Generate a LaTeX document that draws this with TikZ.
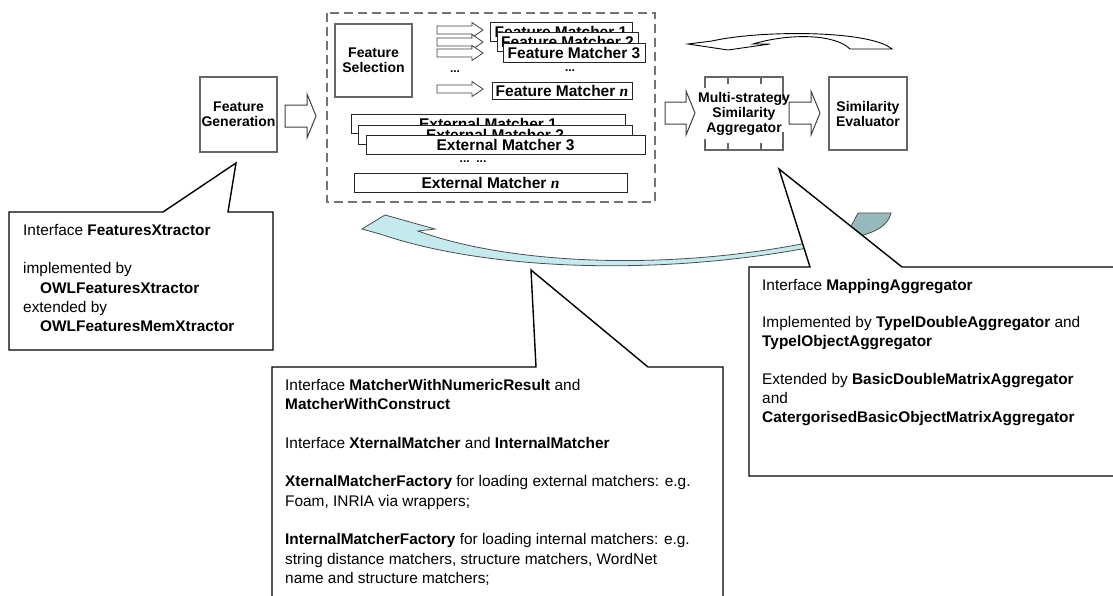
\documentclass[tikz,border=0pt]{standalone}
\usepackage{fontspec}
\setmainfont{Liberation Sans}
\newfontfamily\timesit{Liberation Serif}
\usetikzlibrary{calc}

\newcommand{\nvar}{{\timesit\bfseries\itshape n}}

\begin{document}
\begin{tikzpicture}[x=1pt, y=-1pt,
  box/.style={draw=black!60, line width=1.2pt, fill=white, align=center,
    inner sep=0pt, font=\fontsize{14}{15}\selectfont\bfseries},
  matcher/.style={draw=black!85, line width=0.9pt, fill=white, inner sep=0pt,
    minimum height=19pt, font=\fontsize{15.5}{16}\selectfont\bfseries},
  dots/.style={font=\fontsize{12}{12}\selectfont\bfseries, inner sep=0pt},
  blockarrow/.style={draw=black!75, line width=1pt, fill=white, line join=miter},
  smallarrow/.style={draw=black!75, line width=0.8pt, fill=white},
  callout/.style={draw=black, line width=1.4pt, fill=white, line join=miter},
  note/.style={anchor=north west, align=left, inner sep=0pt,
    font=\fontsize{15.4}{19.3}\selectfont}
]
\useasboundingbox (0,0) rectangle (1113,595);
\clip (0,0) rectangle (1113,595);

  % Feature generation
  \node[box, minimum width=77pt, minimum height=75pt] (gen) at (238.5,114.5) {Feature\\Generation};

  % Matcher frame
  \draw[draw=black!55, line width=1.4pt, dash pattern=on 9pt off 5pt] (327,13) rectangle (655,202);
  \coordinate (frame) at (491,107);

  \node[box, minimum width=77pt, minimum height=73pt] (sel) at (373.5,60.5) {Feature\\Selection};

  % Feature matchers
  \node[matcher, minimum width=142pt] (fm1) at (561,31.5) {Feature Matcher 1};
  \node[matcher, minimum width=141pt] (fm2) at (567.5,42) {Feature Matcher 2};
  \node[matcher, minimum width=142pt] (fm3) at (574,52.5) {Feature Matcher 3};
  \node[matcher, minimum width=140pt, minimum height=17pt] (fmn) at (562,90.5) {Feature Matcher \nvar};
  \node[dots] (dl) at (455,72) {...};
  \node[dots] (dr) at (570,71) {...};

  \foreach \ya in {30,42,53,89}
    \draw[smallarrow] (437,\ya-4) -- (472,\ya-4) -- (472,\ya-7.5) -- (483,\ya)
      -- (472,\ya+7.5) -- (472,\ya+4) -- (437,\ya+4) -- cycle;

  % External matchers
  \node[matcher, minimum width=274pt] (em1) at (488,123.5) {External Matcher 1};
  \node[matcher, minimum width=274pt] (em2) at (495,134.5) {External Matcher 2};
  \node[matcher, minimum width=279pt] (em3) at (505.5,144.5) {External Matcher 3};
  \node[dots] (de) at (473,162) {...\ \ ...};
  \node[matcher, minimum width=273pt] (emn) at (490.5,182.5) {External Matcher \nvar};

  % Aggregator
  \draw[draw=black!60, line width=1.2pt] (705,88) -- (705,77) -- (783,77) -- (783,100);
  \draw[draw=black!60, line width=1.2pt] (705,139) -- (705,150) -- (783,150) -- (783,132);
  \foreach \xt in {728,761} {
    \draw[draw=black!60, line width=1.2pt] (\xt,77) -- (\xt,84);
    \draw[draw=black!60, line width=1.2pt] (\xt,150) -- (\xt,143);
  }
  \node[align=center, inner sep=0pt, font=\fontsize{14}{15}\selectfont\bfseries] (agg) at (744,113.5)
    {Multi-strategy\\Similarity\\Aggregator};

  \node[box, minimum width=78pt, minimum height=73pt] (eval) at (868,113.5) {Similarity\\Evaluator};

  % Block arrows
  \foreach \xa/\xb/\yc in {285/316/116, 665/695/113, 789/820/113}
    \draw[blockarrow] (\xa,\yc-11) -- (\xb-9,\yc-11) -- (\xb-9,\yc-22) -- (\xb,\yc)
      -- (\xb-9,\yc+22) -- (\xb-9,\yc+11) -- (\xa,\yc+11) -- cycle;

  % Feedback arrow above
  \draw[draw=black, line width=0.9pt, fill=white] (892,49) .. controls (870,30) and (760,30) .. (712,41)
    -- (688,44) -- (728,50) -- (770,44) -- (753,44)
    .. controls (790,33) and (835,34) .. (850,49) -- cycle;

  % Feedback arrow below
  \draw[draw=black!70, line width=0.8pt, fill={rgb,255:red,150;green,186;blue,188}]
    (846,236) -- (858,213) -- (891,213) .. controls (888,226) and (875,232) .. (860,236) -- cycle;
  \draw[draw=black!70, line width=0.8pt, fill={rgb,255:red,196;green,234;blue,238}]
    (362,229) -- (385,215) -- (435,229) -- (418,231)
    .. controls (520,268) and (700,272) .. (850,233) -- (862,236)
    .. controls (700,277) and (500,275) .. (380,234) -- cycle;

  % Callouts
  \draw[callout] (9,212) -- (163,212) -- (236,163) -- (228,212) -- (273,212)
    -- (273,350) -- (9,350) -- cycle;
  \draw[callout] (272,610) -- (272,367) -- (536,367) -- (531,270) -- (648,367)
    -- (723,367) -- (723,610) -- cycle;
  \draw[callout] (749,476) -- (749,267) -- (810,267) -- (779,169) -- (902,267)
    -- (1125,267) -- (1125,476) -- cycle;

  % Notes
  \node[note] (n1) at (23,224) {Interface \textbf{FeaturesXtractor}\\[19.3pt]
    implemented by\\
    \hspace*{17pt}\textbf{OWLFeaturesXtractor}\\
    extended by\\
    \hspace*{17pt}\textbf{OWLFeaturesMemXtractor}};

  \node[note] (n2) at (285,379) {Interface \textbf{MatcherWithNumericResult} and\\
    \textbf{MatcherWithConstruct}\\[19.3pt]
    Interface \textbf{XternalMatcher} and \textbf{InternalMatcher}\\[19.3pt]
    \textbf{XternalMatcherFactory} for loading external matchers: e.g.\\
    Foam, INRIA via wrappers;\\[19.3pt]
    \textbf{InternalMatcherFactory} for loading internal matchers: e.g.\\
    string distance matchers, structure matchers, WordNet\\
    name and structure matchers;};

  \node[note] (n3) at (762,279) {Interface \textbf{MappingAggregator}\\[18pt]
    Implemented by \textbf{TypelDoubleAggregator} and\\
    \textbf{TypelObjectAggregator}\\[18pt]
    Extended by \textbf{BasicDoubleMatrixAggregator}\\
    and\\
    \textbf{CatergorisedBasicObjectMatrixAggregator}};

\end{tikzpicture}
\end{document}
